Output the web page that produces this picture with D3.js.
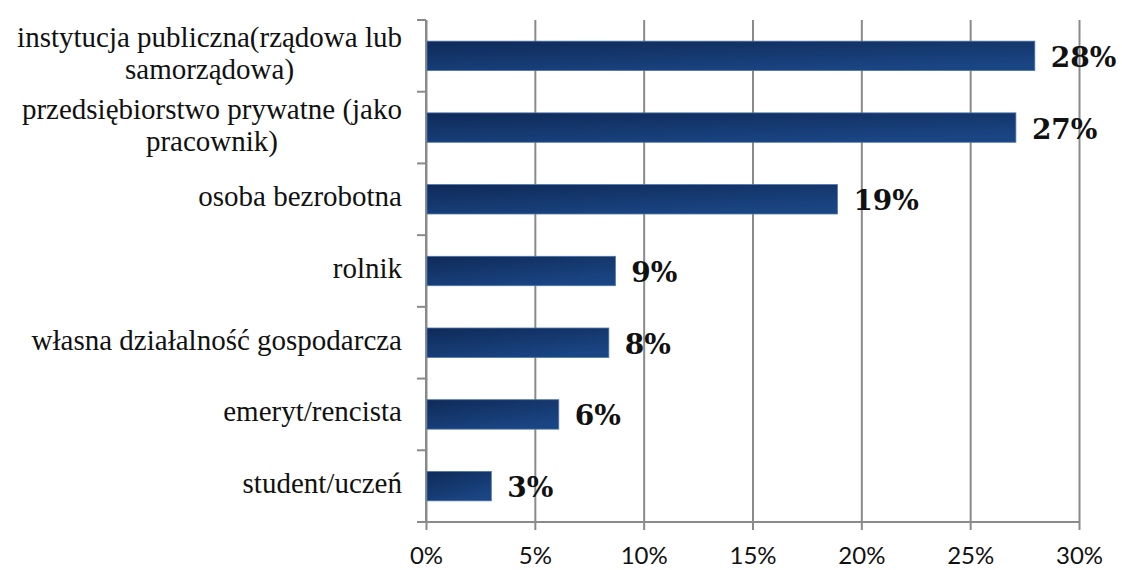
<!DOCTYPE html>
<html>
<head>
<meta charset="utf-8">
<script src="https://cdn.jsdelivr.net/npm/d3@7"></script>
<style>
  body { margin: 0; background: #fff; }
</style>
</head>
<body>
<div id="plot"></div>
<script>
// Data
var categories = [
	["instytucja publiczna(rządowa lub", "samorządowa)"],
	["przedsiębiorstwo prywatne (jako", "pracownik)"],
	["osoba bezrobotna"],
	["rolnik"],
	["własna działalność gospodarcza"],
	["emeryt/rencista"],
	["student/uczeń"]
];
var values = [27.97, 27.1, 18.9, 8.7, 8.4, 6.1, 3.0];
var tickValues = [0, 5, 10, 15, 20, 25, 30];

// Dimensions
var W = 1122, H = 570;
var margin = {top: 20, right: 43, bottom: 48, left: 426};
var width = W - margin.left - margin.right,
	height = H - margin.top - margin.bottom;

var svg = d3.select("#plot")
	.append("svg")
	.attr("width", W)
	.attr("height", H);

// Bar gradient (dark top-left to lighter bottom-right)
var defs = svg.append("defs");
var grad = defs.append("linearGradient")
	.attr("id", "barGrad")
	.attr("x1", "0").attr("y1", "0").attr("x2", "0.6").attr("y2", "1");
grad.append("stop").attr("offset", "0%").attr("stop-color", "#0f2a59");
grad.append("stop").attr("offset", "100%").attr("stop-color", "#1a4583");

var g = svg.append("g")
	.attr("transform", "translate(" + margin.left + "," + margin.top + ")");

// Scales
var x = d3.scaleLinear().domain([0, 30]).range([0, width]);
var y = d3.scaleBand()
	.domain(d3.range(categories.length))
	.range([0, height])
	.paddingInner(0.59)
	.paddingOuter(0.295);
var step = y.step();

// Gridlines + bottom axis
var xAxis = g.append("g")
	.attr("transform", "translate(0," + height + ")")
	.call(d3.axisBottom(x)
		.tickValues(tickValues)
		.tickSize(-height)
		.tickFormat(function(d){ return d + "%"; }));
xAxis.select(".domain").remove();
xAxis.selectAll(".tick line")
	.attr("y1", 8)
	.attr("stroke", "#8a8a8a")
	.attr("stroke-width", 2);
xAxis.selectAll(".tick text")
	.attr("y", 42)
	.attr("dy", 0)
	.style("font-family", "Lato, 'Open Sans', sans-serif")
	.style("font-size", "24px")
	.attr("fill", "#111");

// Bottom axis line
g.append("line")
	.attr("x1", -9).attr("x2", width + 1)
	.attr("y1", height).attr("y2", height)
	.attr("stroke", "#8a8a8a")
	.attr("stroke-width", 2);

// Left axis line and ticks between categories
g.append("line")
	.attr("x1", 0).attr("x2", 0)
	.attr("y1", 0).attr("y2", height)
	.attr("stroke", "#8a8a8a")
	.attr("stroke-width", 2);
g.selectAll(".cattick")
	.data(d3.range(categories.length + 1))
	.enter().append("line")
	.attr("class", "cattick")
	.attr("x1", -9).attr("x2", 0)
	.attr("y1", function(i){ return i * step; })
	.attr("y2", function(i){ return i * step; })
	.attr("stroke", "#8a8a8a")
	.attr("stroke-width", 2);

// Bars
g.selectAll(".bar")
	.data(values)
	.enter().append("rect")
	.attr("class", "bar")
	.attr("x", x(0) + 1)
	.attr("y", function(d, i){ return y(i); })
	.attr("width", function(d){ return x(d) - x(0) - 1; })
	.attr("height", y.bandwidth())
	.attr("fill", "url(#barGrad)")
	.attr("stroke", "#4d74a8")
	.attr("stroke-width", 0.8);

// Value labels
g.selectAll(".val")
	.data(values)
	.enter().append("text")
	.attr("class", "val")
	.attr("x", function(d){ return x(d) + 16; })
	.attr("y", function(d, i){ return y(i) + y.bandwidth() / 2 + 11; })
	.style("font-family", "'DejaVu Serif', serif")
	.style("font-weight", "bold")
	.style("font-size", "28px")
	.attr("fill", "#111")
	.text(function(d){ return Math.round(d) + "%"; });

// Category labels (multi-line centred, block right-aligned)
var labelRight = -24;
categories.forEach(function(lines, i){
	var cy = y(i) + y.bandwidth() / 2;
	var t = g.append("text")
		.style("font-family", "'Liberation Serif', 'Times New Roman', serif")
		.style("font-size", "29px")
		.attr("fill", "#111");
	var spans = t.selectAll("tspan")
		.data(lines)
		.enter().append("tspan")
		.attr("y", function(d, k){ return cy + 7 + (k - (lines.length - 1) / 2) * 32; })
		.text(function(d){ return d; });
	var maxW = 0;
	spans.each(function(){ maxW = Math.max(maxW, this.getComputedTextLength()); });
	spans.attr("x", labelRight - maxW / 2).attr("text-anchor", "middle");
});
</script>
</body>
</html>
